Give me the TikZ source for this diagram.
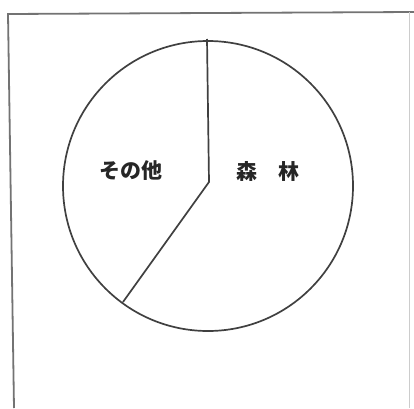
\documentclass[tikz,border=0pt]{standalone}
\usepackage{fontspec}
\newfontfamily\jpfont{Noto Sans CJK JP}
\usepackage{tikz}
\usetikzlibrary{positioning}
\tikzstyle{piename} = [inner sep=0pt, font=\jpfont\bfseries\fontsize{21}{21}\selectfont, text=black!85]
\tikzstyle{pieline} = [line width=1.7pt, draw=black!75]
\tikzstyle{frame} = [line width=1.8pt, draw=black!55]

\begin{document}
\begin{tikzpicture}[x=1pt, y=1pt]
 \useasboundingbox (0,0) rectangle (414,408);

 % frame
 \draw[frame] (14,0) -- (8,394) -- (414,396);
 \draw[line width=0.8pt, draw=black!20] (409,396) -- (409,0);

 % pie
 \coordinate (mid) at (208,222);
 \coordinate (apex) at (209,226);
 \coordinate (top) at (207,369);
 \coordinate (cut) at (123,106);
 \draw[pieline] (mid) circle [radius=145];
 \draw[pieline] (top) -- (apex) -- (cut);

 \node (other) [piename] at (131,237) {その他};
 \node (forest) [piename] at (268,237) {森\hspace{1em}林};
\end{tikzpicture}
\end{document}
